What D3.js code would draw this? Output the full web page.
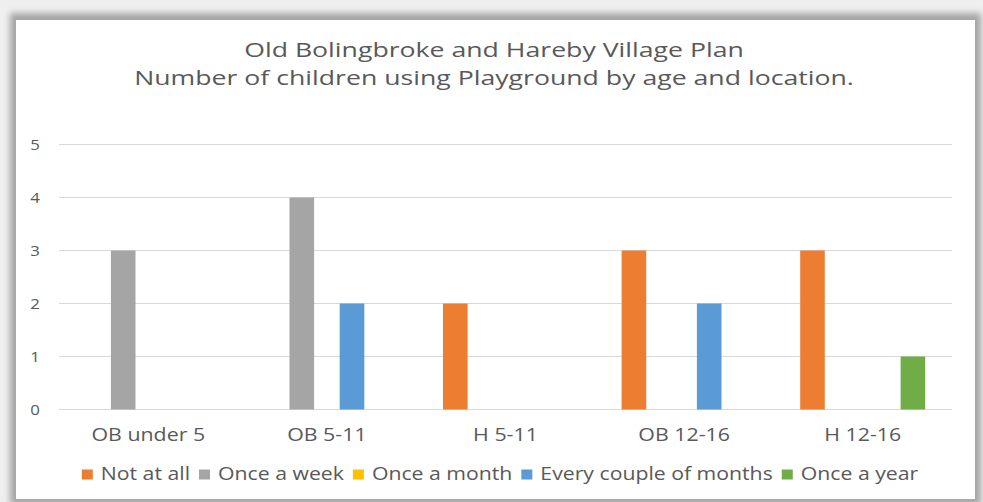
<!DOCTYPE html>
<html>
<head>
<meta charset="utf-8">
<script src="https://cdn.jsdelivr.net/npm/d3@7"></script>
<style>
  html, body { margin: 0; padding: 0; background: #ededed; }
  svg { display: block; font-family: "Open Sans", sans-serif; }
</style>
</head>
<body>
<svg id="chart" width="983" height="502"></svg>
<script>
// ---- data ----
const categories = ['OB under 5', 'OB 5-11', 'H 5-11', 'OB 12-16', 'H 12-16'];
const seriesNames = ['Not at all', 'Once a week', 'Once a month', 'Every couple of months', 'Once a year'];
const notAtAll      = [0, 0, 2, 3, 3];
const onceAWeek     = [3, 4, 0, 0, 0];
const onceAMonth    = [0, 0, 0, 0, 0];
const everyCouple   = [0, 2, 0, 2, 0];
const onceAYear     = [0, 0, 0, 0, 1];
const yTicks = [0, 1, 2, 3, 4, 5];
const titleLines = ['Old Bolingbroke and Hareby Village Plan',
                    'Number of children using Playground by age and location.'];

const seriesValues = [notAtAll, onceAWeek, onceAMonth, everyCouple, onceAYear];
const colors = ['#ED7D31', '#A5A5A5', '#FFC000', '#5B9BD5', '#70AD47'];
const textCol = '#595959';
const FONT = '"Open Sans", sans-serif';

const svg = d3.select('#chart');

// frame with soft shadow
const defs = svg.append('defs');
const f = defs.append('filter').attr('id', 'shadow')
  .attr('x', '-5%').attr('y', '-5%').attr('width', '110%').attr('height', '110%');
f.append('feGaussianBlur').attr('stdDeviation', 3);

svg.append('rect').attr('width', 983).attr('height', 502).attr('fill', '#efefef');
svg.append('rect').attr('x', 10).attr('y', 13).attr('width', 971).attr('height', 492)
  .attr('fill', '#a5a5a5').attr('filter', 'url(#shadow)');
svg.append('rect').attr('x', 16).attr('y', 20).attr('width', 959).attr('height', 479)
  .attr('fill', '#fff');

// scales
const x0 = d3.scaleBand().domain(categories).range([59, 952]);
const groupW = 125;
const x1 = d3.scaleBand().domain(seriesNames).range([-groupW / 2, groupW / 2]).paddingInner(0.02);
const y = d3.scaleLinear().domain([0, 5]).range([409.5, 144.5]);

// gridlines
svg.append('g').selectAll('line').data(yTicks).join('line')
  .attr('x1', 59).attr('x2', 952)
  .attr('y1', d => y(d)).attr('y2', d => y(d))
  .attr('stroke', '#d9d9d9').attr('stroke-width', 1.2);

// y axis labels
const yAxis = svg.append('g').attr('transform', 'translate(35,0)')
  .call(d3.axisLeft(y).tickValues(yTicks).tickFormat(d3.format('d')).tickSize(0).tickPadding(0));
yAxis.select('.domain').remove();
yAxis.selectAll('text').attr('fill', textCol).attr('font-size', 14).attr('font-family', FONT)
  .attr('text-anchor', 'middle').attr('x', 0).attr('dy', '0.36em')
  .attr('transform', 'scale(1.2,1)');

// bars
const barData = [];
seriesNames.forEach((s, si) => {
  categories.forEach((c, ci) => {
    barData.push({ series: s, cat: c, value: seriesValues[si][ci], color: colors[si] });
  });
});
svg.append('g').selectAll('rect').data(barData.filter(d => d.value > 0)).join('rect')
  .attr('x', d => x0(d.cat) + x0.bandwidth() / 2 + x1(d.series))
  .attr('width', x1.bandwidth())
  .attr('y', d => y(d.value))
  .attr('height', d => y(0) - y(d.value))
  .attr('fill', d => d.color);

// x axis labels
const xAxis = svg.append('g').attr('transform', `translate(0,${y(0)})`)
  .call(d3.axisBottom(x0).tickSize(0));
xAxis.select('.domain').remove();
xAxis.selectAll('text').attr('fill', textCol).attr('font-size', 17.5).attr('font-family', FONT)
  .attr('y', 31.5).attr('dy', 0).attr('transform', 'scale(1.22,1)');

// title
svg.append('g').selectAll('g').data(titleLines).join('g')
  .attr('transform', (d, i) => `translate(494,${56.5 + i * 28.5}) scale(1.3,1)`)
  .append('text')
  .attr('text-anchor', 'middle').attr('font-size', 20.5).attr('fill', textCol)
  .text(d => d);

// legend
const legScale = 1.18;
const legend = svg.append('g');
const items = legend.selectAll('g').data(seriesNames).join('g');
items.append('rect').attr('width', 11).attr('height', 10).attr('y', -10.5)
  .attr('fill', (d, i) => colors[i]);
items.append('text').attr('font-size', 18).attr('fill', textCol)
  .attr('transform', `translate(19,0) scale(${legScale},1)`).text(d => d);
let cx = 0;
items.each(function () {
  const w = this.querySelector('text').getComputedTextLength() * legScale + 19;
  d3.select(this).attr('transform', `translate(${cx},0)`);
  cx += w + 9;
});
const total = cx - 9;
legend.attr('transform', `translate(${500 - total / 2},480)`);
</script>
</body>
</html>
